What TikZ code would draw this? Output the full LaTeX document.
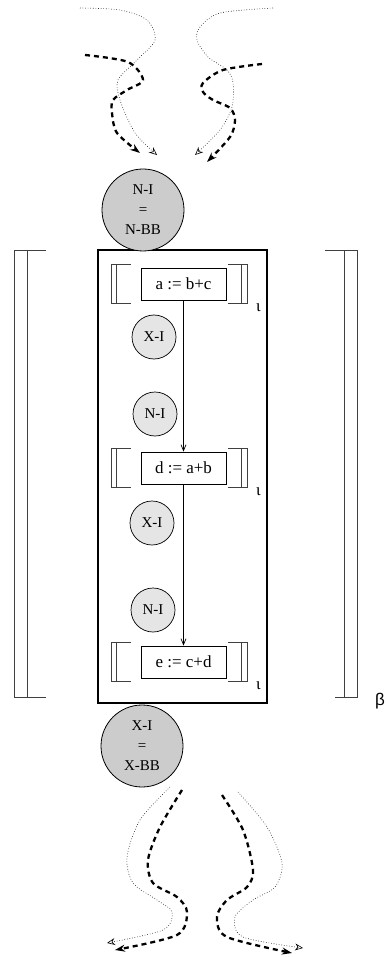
\documentclass[tikz,border=0pt]{standalone}
\usepackage{fontspec}
\setmainfont{Liberation Serif}
\newfontfamily\greeksans{Liberation Sans}
\usetikzlibrary{arrows.meta,calc}

\tikzset{
  stmt/.style={draw, line width=0.8pt, minimum width=85pt, minimum height=32pt, inner sep=0pt, font=\fontsize{17}{20}\selectfont},
  small/.style={circle, draw, line width=0.7pt, fill=black!10, minimum size=44pt, inner sep=0pt, font=\fontsize{15}{18}\selectfont},
  big/.style={circle, draw, line width=0.8pt, fill=black!20, minimum size=82pt, inner sep=0pt, align=center, font=\fontsize{15}{20}\selectfont},
  brk/.style={line width=0.8pt, black!75},
  flowdash/.style={line width=2.3pt, dash pattern=on 5pt off 4pt, -{Stealth[length=10pt,width=7pt]}},
  flowdot/.style={line width=0.6pt, dash pattern=on 0.6pt off 2pt, -{Stealth[open,length=8pt,width=7pt]}},
  edge/.style={line width=0.7pt, -{Straight Barb[length=6pt,width=5pt]}}
}

% double brackets round a statement
\newcommand{\brackets}[1]{%
  \draw[brk] ([xshift=-10pt,yshift=3pt]#1.north west) -- ([xshift=-29pt,yshift=3pt]#1.north west)
    -- ([xshift=-29pt,yshift=-3pt]#1.south west) -- ([xshift=-10pt,yshift=-3pt]#1.south west);
  \draw[brk] ([xshift=-24pt,yshift=3pt]#1.north west) -- ([xshift=-24pt,yshift=-3pt]#1.south west);
  \draw[brk] ([xshift=2pt,yshift=3pt]#1.north east) -- ([xshift=21pt,yshift=3pt]#1.north east)
    -- ([xshift=21pt,yshift=-3pt]#1.south east) -- ([xshift=2pt,yshift=-3pt]#1.south east);
  \draw[brk] ([xshift=15pt,yshift=3pt]#1.north east) -- ([xshift=15pt,yshift=-3pt]#1.south east);
  \node[font=\fontsize{17}{20}\selectfont] at ([xshift=32pt,yshift=-7pt]#1.south east) {ι};
}

\begin{document}
\begin{tikzpicture}[x=1pt,y=-1pt]
\useasboundingbox (0,0) rectangle (387,957);

% flow in
\draw[flowdot] plot[smooth] coordinates {(80,8) (120,10) (147,20) (155,40) (137,60) (118,80) (120,100) (135,133) (157,155)};
\draw[flowdash] plot[smooth] coordinates {(85,55) (128,62) (143,80) (127,90) (113,100) (112,113) (117,133) (140,153)};
\draw[flowdot] plot[smooth] coordinates {(273,8) (220,13) (200,27) (197,40) (208,57) (227,70) (233,83) (232,107) (220,130) (195,155)};
\draw[flowdash] plot[smooth] coordinates {(262,64) (223,70) (203,83) (203,92) (213,100) (230,108) (235,120) (230,137) (207,162)};

% block
\node[draw, line width=2pt, minimum width=169pt, minimum height=453pt, inner sep=0pt] (bb) at (182.5,476.5) {};
\node[big] (nbb) at (143,210) {N-I\\=\\N-BB};
\node[big] (xbb) at (142,746) {X-I\\=\\X-BB};

% outer brackets
\draw[brk] (46,250) -- (14,250) -- (14,697) -- (46,697);
\draw[brk] (27,250) -- (27,697);
\draw[brk] (325,250) -- (357,250) -- (357,697) -- (335,697);
\draw[brk] (344,250) -- (344,697);
\node[font=\greeksans\fontsize{17}{20}\selectfont] (beta) at (380,701) {β};

% statements
\node[stmt] (s1) at (183.5,284) {a := b+c};
\node[stmt] (s2) at (183.5,468) {d := a+b};
\node[stmt] (s3) at (183.5,662) {e := c+d};
\brackets{s1}
\brackets{s2}
\brackets{s3}

\node[small] (x1) at (154,337) {X-I};
\node[small] (n1) at (155,414) {N-I};
\node[small] (x2) at (152,523) {X-I};
\node[small] (n2) at (153,610) {N-I};

\draw[edge] (s1) -- (s2);
\draw[edge] (s2) -- (s3);

% flow out
\draw[flowdot] plot[smooth] coordinates {(170,787) (140,820) (127,857) (133,883) (157,900) (172,912) (163,930) (107,943)};
\draw[flowdash] plot[smooth] coordinates {(182,790) (160,827) (148,860) (153,883) (177,897) (187,912) (177,935) (115,950)};
\draw[flowdash] plot[smooth] coordinates {(222,795) (243,830) (253,870) (247,887) (227,900) (217,917) (227,937) (292,953)};
\draw[flowdot] plot[smooth] coordinates {(238,792) (267,827) (282,863) (275,887) (253,900) (235,917) (243,937) (303,948)};
\end{tikzpicture}
\end{document}
